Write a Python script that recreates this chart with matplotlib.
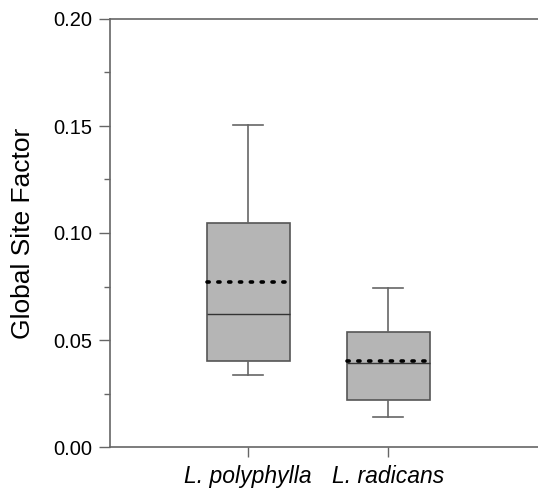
import matplotlib
matplotlib.use("Agg")
import matplotlib.pyplot as plt

plt.rcParams['font.family'] = ['Liberation Sans', 'DejaVu Sans']

categories = ["L. polyphylla", "L. radicans"]
whislo = [0.0335, 0.0140]
q1 = [0.0402, 0.0218]
med = [0.0621, 0.0391]
q3 = [0.1045, 0.0536]
whishi = [0.1503, 0.0745]
means = [0.0772, 0.0400]

stats = []
for i, c in enumerate(categories):
    stats.append(dict(label=c, whislo=whislo[i], q1=q1[i], med=med[i], q3=q3[i],
                      whishi=whishi[i], mean=means[i], fliers=[]))

fig = plt.figure(figsize=(5.38, 4.90), dpi=100)
ax = fig.add_axes([110/538, 43/490, 428/538, 428/490])

positions = [1, 2]
ax.bxp(stats, positions=positions, widths=0.593, patch_artist=True,
       showmeans=True, meanline=True, showfliers=False,
       capwidths=0.214,
       boxprops=dict(facecolor='#b5b5b5', edgecolor='#555555', linewidth=1.2),
       whiskerprops=dict(color='#666666', linewidth=1.2),
       capprops=dict(color='#666666', linewidth=1.2),
       medianprops=dict(color='#333333', linewidth=1.0),
       meanprops=dict(color='black', linestyle=(0, (0.6, 2.4)), linewidth=2.6,
                      dash_capstyle='round'))

ax.set_xlim(0.014, 3.07)
ax.set_ylim(0, 0.2)
ax.set_yticks([0, 0.05, 0.10, 0.15, 0.20])
ax.set_yticklabels(["0.00", "0.05", "0.10", "0.15", "0.20"], fontsize=14.5)
ax.set_yticks([0.025, 0.075, 0.125, 0.175], minor=True)
ax.set_xticks(positions)
ax.set_xticklabels(categories, fontsize=16.5, style='italic')
ax.tick_params(axis='y', which='major', direction='out', length=8, width=1, color='#666666', pad=5)
ax.tick_params(axis='y', which='minor', direction='out', length=4, width=1, color='#666666')
ax.tick_params(axis='x', which='major', direction='out', length=7, width=1, color='#666666', pad=6)
ax.set_ylabel("Global Site Factor", fontsize=19, labelpad=13)

for s in ['left', 'top', 'bottom']:
    ax.spines[s].set_color('#666666')
    ax.spines[s].set_linewidth(1.2)
ax.spines['right'].set_visible(False)

fig.savefig("out.png", dpi=100)
